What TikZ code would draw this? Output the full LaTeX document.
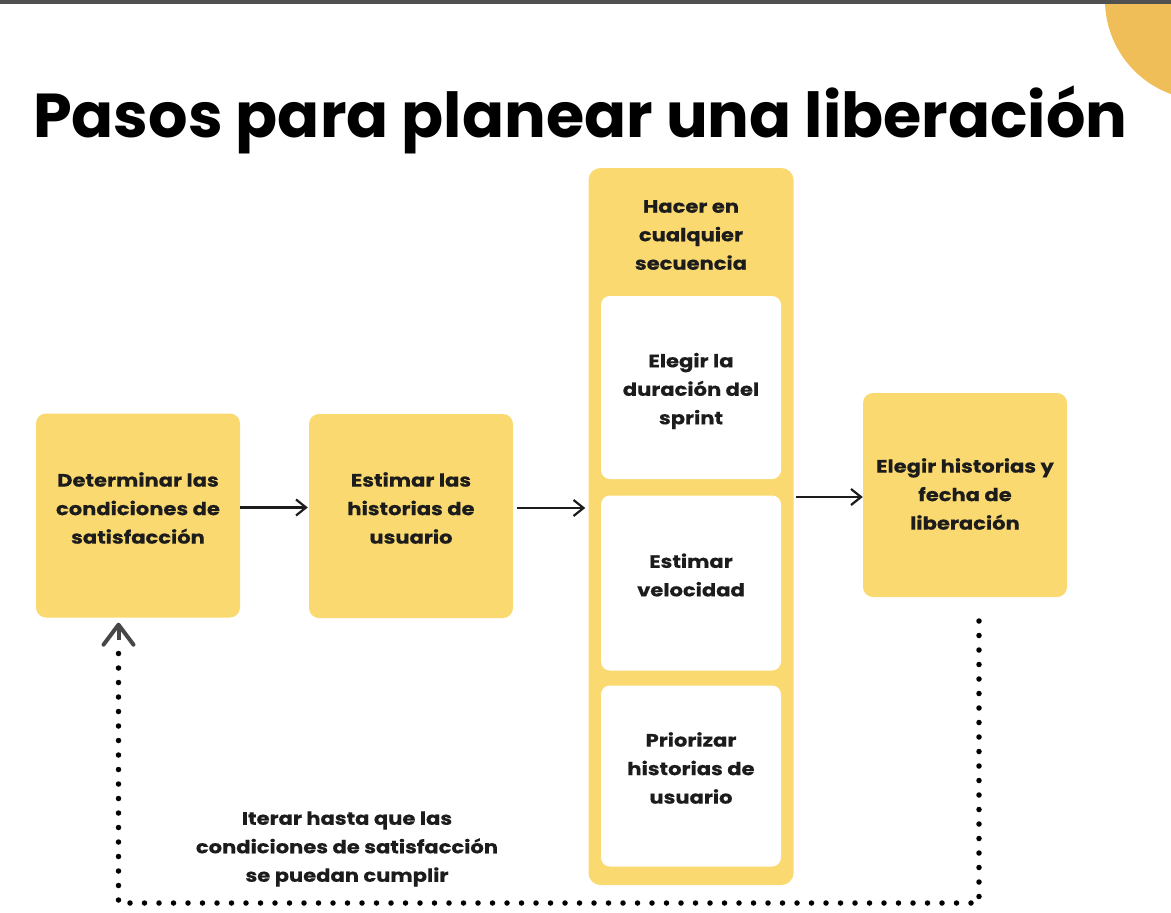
\documentclass[tikz,border=0pt]{standalone}
\usepackage{fontspec}
\setmainfont{Poppins}
\newfontfamily\bodyfont[FakeStretch=1.17,FakeBold=0.4]{Poppins}
\usetikzlibrary{arrows.meta}
\definecolor{yel}{RGB}{250,218,112}
\definecolor{sun}{RGB}{240,190,88}
\definecolor{ink}{RGB}{28,28,28}
\definecolor{bar}{RGB}{80,80,80}
\definecolor{tipgray}{RGB}{70,70,70}
\begin{document}
\begin{tikzpicture}[x=1pt,y=-1pt,
  ybox/.style={fill=yel, draw=none, rounded corners=10pt, minimum width=204pt, minimum height=204pt, inner sep=0pt},
  wbox/.style={fill=white, draw=none, rounded corners=9pt, minimum width=180pt, inner sep=0pt},
  lbl/.style={font=\bodyfont\fontsize{18}{28.5}\selectfont\bfseries, text=ink, align=center, inner sep=0pt},
  flow/.style={draw=ink, line width=2.3pt, -{Straight Barb[length=10pt,width=16pt,line width=2.2pt]}},
  dots/.style={draw=black, line width=5.5pt, line cap=round, dash pattern=on 0pt off 14.5pt},
  backtip/.style={draw=tipgray, line width=4pt, -{Straight Barb[length=20pt,width=30pt,line width=4pt,round]}}
]
\useasboundingbox (0,0) rectangle (1171,913);
\fill[white] (0,0) rectangle (1171,913);
\fill[sun] (1205,0) circle[radius=100];
\fill[bar] (0,0) rectangle (1171,4);

\node[font=\fontsize{62}{70}\selectfont\bfseries, anchor=base west, inner sep=0pt, text=black] (title) at (33,137) {Pasos para planear una liberación};

% left boxes
\node[ybox] (b1) at (138,515.5) {};
\node[lbl] (t1) at (138,508) {Determinar las\\condiciones de\\satisfacción};
\node[ybox] (b2) at (411,516) {};
\node[lbl] (t2) at (411,508) {Estimar las\\historias de\\usuario};

% column
\node[fill=yel, draw=none, rounded corners=12pt, minimum width=205pt, minimum height=717pt, inner sep=0pt] (col) at (691,526.5) {};
\node[lbl] (hdr) at (691,235) {Hacer en\\cualquier\\secuencia};
\node[wbox, minimum height=183pt] (wa) at (691,387.5) {};
\node[lbl] (ta) at (691,391) {Elegir la\\duración del\\sprint};
\node[wbox, minimum height=175pt] (wb) at (691,583) {};
\node[lbl] (tb) at (691,575) {Estimar\\velocidad};
\node[wbox, minimum height=181pt] (wc) at (691,776) {};
\node[lbl] (tc) at (691,768) {Priorizar\\historias de\\usuario};

% right box
\node[ybox] (b4) at (965,495) {};
\node[lbl] (t4) at (965,494) {Elegir historias y\\fecha de\\liberación};

% arrows
\path (b1.east) ++(0,-8) coordinate (a1);
\draw[flow, shorten >=1pt] (a1) -- (a1 -| b2.west);
\path (b2.east) ++(0,-8) coordinate (a2);
\draw[flow, shorten <=4pt, shorten >=3pt] (a2) -- (a2 -| col.west);
\path (b4.west) ++(0,2) coordinate (a3);
\draw[flow, shorten <=2pt] (a3 -| col.east) -- (a3);

% feedback loop
\coordinate (d1) at (979,621);
\coordinate (d2) at (979,903);
\coordinate (d3) at (118.5,903);
\coordinate (d4) at (118.5,640);
\draw[dots] (d1) -- (d2) -- (d3) -- (d4);
\draw[backtip, shorten >=5pt] (d4) -- (d4 |- b1.south);

\node[lbl] (note) at (347,849) {Iterar hasta que las\\condiciones de satisfacción\\se puedan cumplir};
\end{tikzpicture}
\end{document}
